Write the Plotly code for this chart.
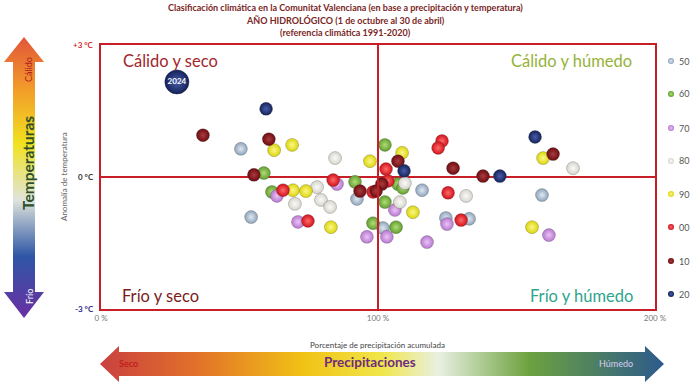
import plotly.graph_objects as go

W, H = 690, 386

# ---------------- data (precip % of normal, temperature anomaly °C) ----------------
decades = ["50", "60", "70", "80", "90", "00", "10", "20"]
decade_colors = ["#8ea3ba", "#5f9e2c", "#b877cf", "#d6d4cc", "#dcd60a", "#d0101a", "#6e0b10", "#14225a"]
decade_light = ["#dfe8f2", "#b2dc7a", "#e9c4f6", "#fbfbf8", "#fbf68a", "#ff6a6a", "#a83c40", "#4a5ca8"]

prec_50 = [50.5, 92.4, 54.2, 101.8, 115.9, 124.5, 132.9, 159.2]
temp_50 = [0.64, -0.50, -0.91, -1.16, -0.30, -0.93, -0.95, -0.41]

prec_60 = [58.8, 102.5, 91.7, 61.7, 98.2, 102.5, 106.5, 107.2, 109.0]
temp_60 = [0.09, 0.73, -0.11, -0.34, -1.05, -0.57, -1.14, -0.16, -0.25]

prec_70 = [85.2, 63.5, 71.1, 96.0, 103.2, 106.1, 124.9, 117.7, 161.7]
temp_70 = [-0.16, -0.43, -1.02, -1.36, -1.36, -0.75, -1.07, -1.48, -1.32]

prec_80 = [84.5, 78.0, 70.0, 79.4, 82.7, 109.7, 107.9, 131.8, 170.4]
temp_80 = [0.43, -0.23, -0.61, -0.52, -0.68, -0.14, -0.57, -0.43, 0.20]

prec_90 = [62.5, 69.0, 97.1, 108.7, 69.3, 74.0, 83.0, 112.6, 159.6, 155.6]
temp_90 = [0.61, 0.73, 0.36, 0.55, -0.30, -0.32, -1.14, -0.80, 0.43, -1.14]

prec_00 = [83.8, 65.7, 98.2, 102.9, 123.1, 121.7, 125.3, 74.7, 130.0, 103.6]
temp_00 = [-0.07, -0.30, -0.34, 0.18, 0.82, 0.66, -0.36, -1.00, -0.98, -0.09]

prec_10 = [36.8, 60.6, 55.2, 107.2, 127.1, 137.9, 163.2, 93.5, 101.4, 99.3]
temp_10 = [0.95, 0.86, 0.05, 0.36, 0.20, 0.02, 0.52, -0.32, -0.16, -0.32]

prec_20 = [59.6, 109.4, 144.0, 156.7]
temp_20 = [1.55, 0.14, 0.02, 0.91]

year_2024_prec = [27.4]
year_2024_temp = [2.16]
year_2024_label = ["2024"]

x_ticks = [0, 100, 200]
x_tick_labels = ["0 %", "100 %", "200 %"]
y_ticks = [3, 0, -3]
y_tick_labels = ["+3 °C", "0 °C", "-3 °C"]
y_tick_colors = ["#d02a2a", "#333333", "#2a2a8a"]

title_lines = [
    "Clasificación climática en la Comunitat Valenciana (en base a precipitación y temperatura)",
    "AÑO HIDROLÓGICO (1 de octubre al 30 de abril)",
    "(referencia climática 1991-2020)",
]

series = [
    (prec_50, temp_50), (prec_60, temp_60), (prec_70, temp_70), (prec_80, temp_80),
    (prec_90, temp_90), (prec_00, temp_00), (prec_10, temp_10), (prec_20, temp_20),
]

FONT = "Lato, 'Open Sans', sans-serif"

fig = go.Figure()

# ---------------- decorative overlay (pixel coordinates) ----------------
vx = [24, 44, 35, 35, 44, 24, 4, 13, 13, 4, 24]
vy = [37, 62, 62, 292, 292, 318, 292, 292, 62, 62, 37]
fig.add_trace(go.Scatter(
    x=vx, y=vy, xaxis="x2", yaxis="y2", mode="lines", fill="toself",
    line=dict(width=0, color="rgba(0,0,0,0)"),
    fillgradient=dict(type="vertical", start=37, stop=318,
                      colorscale=[[0, "#e2553a"], [0.18, "#f29a2a"], [0.38, "#f1e21e"],
                                  [0.58, "#dfe4dc"], [0.78, "#2e56a6"], [1, "#6b2fa2"]]),
    hoverinfo="skip", showlegend=False))

hx = [100, 119, 119, 645, 645, 664, 645, 645, 119, 119, 100]
hy = [364, 346, 352, 352, 346, 364, 382, 376, 376, 382, 364]
fig.add_trace(go.Scatter(
    x=hx, y=hy, xaxis="x2", yaxis="y2", mode="lines", fill="toself",
    line=dict(width=0, color="rgba(0,0,0,0)"),
    fillgradient=dict(type="horizontal", start=100, stop=664,
                      colorscale=[[0, "#c9413f"], [0.17, "#e2702a"], [0.36, "#f1c215"],
                                  [0.5, "#f0e64a"], [0.6, "#e9f0e2"], [0.76, "#6da23e"],
                                  [1, "#2c5a8c"]]),
    hoverinfo="skip", showlegend=False))

legend_y = [61, 94, 128, 161, 194, 227, 261, 294]
fig.add_trace(go.Scatter(
    x=[671] * len(decades), y=legend_y, xaxis="x2", yaxis="y2", mode="markers",
    marker=dict(size=6, color=decade_colors,
                gradient=dict(type="radial", color=decade_light),
                line=dict(width=0)),
    hoverinfo="skip", showlegend=False))

# ---------------- data points ----------------
for (px, py), col, light, dec in zip(series, decade_colors, decade_light, decades):
    fig.add_trace(go.Scatter(
        x=px, y=py, mode="markers", name=dec,
        marker=dict(size=13, color=col,
                    gradient=dict(type="radial", color=light),
                    line=dict(width=0.5, color="rgba(60,60,60,0.5)")),
        showlegend=False))

fig.add_trace(go.Scatter(
    x=year_2024_prec, y=year_2024_temp, mode="markers+text", text=year_2024_label,
    textposition="middle center",
    textfont=dict(color="white", size=8, family=FONT, weight="bold"),
    marker=dict(size=24, color="#14235c", gradient=dict(type="radial", color="#4a5ca8"),
                line=dict(width=0.5, color="#0a1030")),
    showlegend=False))

# ---------------- layout ----------------
red = "#c81e28"


def ann(text, x, y, size, color, xanchor="center", yanchor="middle", angle=0):
    return dict(text=text, xref="paper", yref="paper", x=x / W, y=1 - y / H,
                showarrow=False, xanchor=xanchor, yanchor=yanchor, textangle=angle,
                font=dict(size=size, color=color, family=FONT))


annotations = []
for i, line in enumerate(title_lines):
    annotations.append(ann(f"<b>{line}</b>", 345, 8 + 12.5 * i, 9, "#7a2626"))

quad = [
    ("Cálido y seco", 121, 61, "left", "#a3262b"),
    ("Cálido y húmedo", 634, 61, "right", "#95b33a"),
    ("Frío y seco", 120, 296, "left", "#7a1c1c"),
    ("Frío y húmedo", 635, 296, "right", "#2ea58e"),
]
for t, xx, yy, anc, c in quad:
    annotations.append(ann(t, xx, yy, 16.5, c, xanchor=anc))

for lab, yv, c in zip(y_tick_labels, y_ticks, y_tick_colors):
    annotations.append(dict(text=f"<b>{lab}</b>", xref="paper", y=yv, yref="y",
                            x=96 / W, xanchor="right", yanchor="middle", showarrow=False,
                            font=dict(size=8, color=c, family=FONT)))

annotations += [
    ann("Anomalía de temperatura", 64, 177, 8, "#666666", angle=-90),
    ann("Porcentaje de precipitación acumulada", 377, 345, 8, "#444444"),
    ann("Cálido", 29, 70, 9, "#b0201e", angle=-90),
    ann("<b>Temperaturas</b>", 28, 163, 15.5, "#2d4f2a", angle=-90),
    ann("Frío", 29, 297, 9, "#ffffff", angle=-90),
    ann("<b>Seco</b>", 128, 363, 9, "#c01e1e"),
    ann("<b>Precipitaciones</b>", 370, 362, 13.5, "#6e2d7c"),
    ann("Húmedo", 616, 363, 9, "#d8ccf2"),
]
for d, yy in zip(decades, legend_y):
    annotations.append(ann(d, 677, yy, 9, "#555555", xanchor="left"))

fig.update_layout(
    width=W, height=H, autosize=False, showlegend=False,
    margin=dict(l=0, r=0, t=0, b=0, pad=0),
    paper_bgcolor="white", plot_bgcolor="rgba(0,0,0,0)",
    font=dict(family=FONT),
    xaxis=dict(domain=[101 / W, 655 / W], range=[0, 200], tickvals=x_ticks,
               ticktext=x_tick_labels, showgrid=False, zeroline=False,
               showline=True, mirror=True, linecolor=red, linewidth=2,
               tickfont=dict(size=8, color="#777777"), ticks="", ticklen=0,
               automargin=False),
    yaxis=dict(domain=[1 - 309 / H, 1 - 45 / H], range=[-3, 3], tickvals=y_ticks,
               showticklabels=False, showgrid=False, zeroline=True, zerolinecolor=red,
               zerolinewidth=2, showline=True, mirror=True, linecolor=red, linewidth=2,
               automargin=False),
    xaxis2=dict(domain=[0, 1], range=[0, W], visible=False, anchor="y2", automargin=False),
    yaxis2=dict(domain=[0, 1], range=[H, 0], visible=False, anchor="x2", automargin=False),
    shapes=[dict(type="line", xref="x", yref="paper", x0=100, x1=100,
                 y0=1 - 309 / H, y1=1 - 45 / H, line=dict(color=red, width=2))],
    annotations=annotations,
)

fig.write_html("out.html",
               config={"displayModeBar": False, "responsive": False},
               post_script="document.body.style.margin='0';document.body.style.overflow='hidden';")
